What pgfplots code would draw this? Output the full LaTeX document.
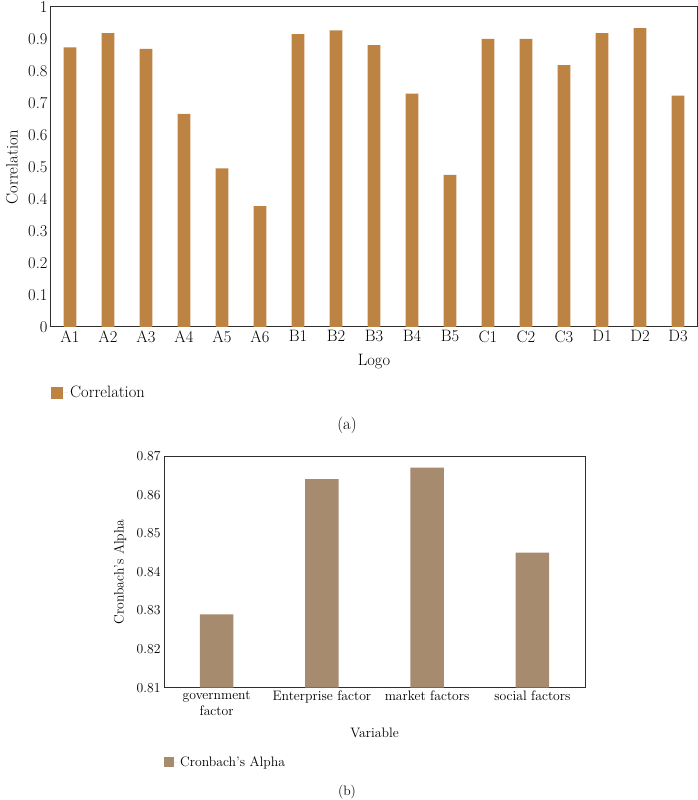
\documentclass[border=0pt]{standalone}
\usepackage{pgfplots}
\pgfplotsset{compat=1.18}
\definecolor{barA}{HTML}{BD8343}
\definecolor{barB}{HTML}{A68B6E}
\definecolor{axc}{HTML}{2E2E2E}
\pgfplotstableread{
x y
0 0.874
1 0.918
2 0.869
3 0.666
4 0.496
5 0.378
6 0.915
7 0.927
8 0.881
9 0.729
10 0.475
11 0.900
12 0.900
13 0.818
14 0.918
15 0.934
16 0.723
}\dataA
\pgfplotstableread{
x y
0 0.829
1 0.864
2 0.867
3 0.845
}\dataB
\begin{document}
\begin{tikzpicture}
\useasboundingbox (0pt,0pt) rectangle (698pt,800pt);
\begin{axis}[
  at={(51pt,473pt)}, anchor=south west, scale only axis,
  width=646pt, height=320pt,
  xmin=-0.5, xmax=16.5, ymin=0, ymax=1,
  xtick={0,...,16},
  xticklabels={A1,A2,A3,A4,A5,A6,B1,B2,B3,B4,B5,C1,C2,C3,D1,D2,D3},
  ytick={0,0.1,0.2,0.3,0.4,0.5,0.6,0.7,0.8,0.9,1},
  yticklabel style={/pgf/number format/fixed,/pgf/number format/precision=1},
  /pgf/number format/assume math mode=true,
  major tick length=0pt,
  axis line style={axc, line width=1pt},
  tick label style={font=\fontsize{16.5}{18}\selectfont, text=black},
  xlabel={Logo}, ylabel={Correlation},
  every axis x label/.style={at={(axis description cs:0.5,-0.109)}, anchor=center, font=\fontsize{16.5}{18}\selectfont},
  every axis y label/.style={at={(axis description cs:-0.0604,0.5)}, rotate=90, anchor=center, font=\fontsize{16.5}{18}\selectfont},
  legend style={at={(axis description cs:0,-0.206)}, anchor=west, draw=none, fill=none, inner sep=0pt, font=\fontsize{16.5}{18}\selectfont},
  legend image code/.code={\fill[#1] (0pt,-6pt) rectangle (12pt,6pt); \path (0pt,0pt) -- (17pt,0pt);},
]
\addplot[ybar, bar width=12.7pt, fill=barA, draw=none] table[x=x,y=y] {\dataA};
\addlegendentry{Correlation}
\end{axis}
\node[font=\fontsize{16.5}{18}\selectfont] at (347pt,375pt) {(a)};
\begin{axis}[
  at={(164pt,112.3pt)}, anchor=south west, scale only axis,
  width=421pt, height=231.7pt,
  xmin=-0.5, xmax=3.5, ymin=0.81, ymax=0.87,
  xtick={0,1,2,3},
  xticklabels={{government\\factor},{Enterprise factor},{market factors},{social factors}},
  xticklabel style={align=center},
  ytick={0.81,0.82,0.83,0.84,0.85,0.86,0.87},
  yticklabel style={/pgf/number format/fixed,/pgf/number format/fixed zerofill,/pgf/number format/precision=2},
  /pgf/number format/assume math mode=true,
  major tick length=0pt,
  axis line style={axc, line width=1pt},
  tick label style={font=\fontsize{13.7}{15.5}\selectfont, text=black},
  xlabel={Variable}, ylabel={Cronbach's Alpha},
  every axis x label/.style={at={(axis description cs:0.5,-0.196)}, anchor=center, font=\fontsize{13.7}{15.5}\selectfont},
  every axis y label/.style={at={(axis description cs:-0.1045,0.5)}, rotate=90, anchor=center, font=\fontsize{13.7}{15.5}\selectfont},
  legend style={at={(axis description cs:0,-0.321)}, anchor=west, draw=none, fill=none, inner sep=0pt, font=\fontsize{13.7}{15.5}\selectfont},
  legend image code/.code={\fill[#1] (0pt,-5pt) rectangle (10pt,5pt); \path (0pt,0pt) -- (14pt,0pt);},
]
\addplot[ybar, bar width=33.3pt, fill=barB, draw=none] table[x=x,y=y] {\dataB};
\addlegendentry{Cronbach's Alpha}
\end{axis}
\node[font=\fontsize{13.7}{15.5}\selectfont] at (347pt,8pt) {(b)};
\end{tikzpicture}
\end{document}
